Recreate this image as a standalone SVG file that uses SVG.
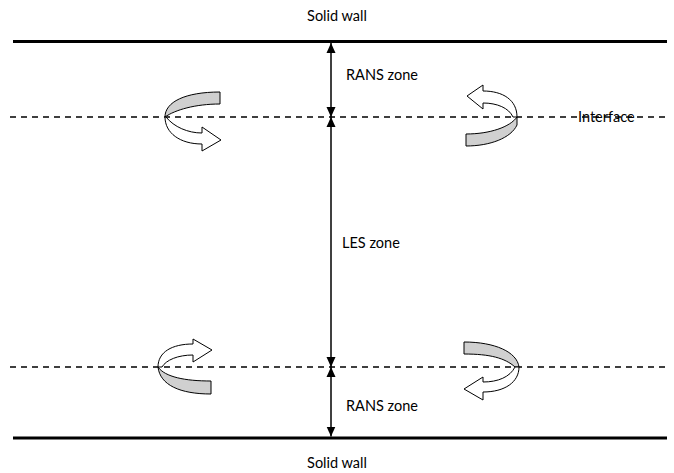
<svg xmlns="http://www.w3.org/2000/svg" width="674" height="473" viewBox="0 0 674 473">
<defs>
<style>
text{font-family:Lato,"Open Sans","Liberation Sans",sans-serif;font-size:14.5px;fill:#000}
.wall{stroke:#000;stroke-width:3}
.dash{stroke:#000;stroke-width:1.3;stroke-dasharray:6 5}
.dim{stroke:#000;stroke-width:1.5;fill:none;marker-start:url(#ah);marker-end:url(#ah)}
.band{fill:#d0d0d0;stroke:#000;stroke-width:1}
.arr{fill:#fff;stroke:#000;stroke-width:1}
</style>
<marker id="ah" viewBox="0 0 10 10" refX="10" refY="5" markerWidth="10" markerHeight="10" markerUnits="userSpaceOnUse" orient="auto-start-reverse">
<path d="M0,0.5 L10,5 L0,9.5 Z" fill="#000"/>
</marker>
</defs>
<g id="walls">
<line class="wall" x1="13" y1="41.5" x2="667" y2="41.5"/>
<line class="wall" x1="13" y1="438" x2="667" y2="438"/>
</g>
<g id="interfaces">
<line class="dash" x1="10" y1="117" x2="670" y2="117"/>
<line class="dash" x1="10" y1="367" x2="670" y2="367"/>
</g>
<g id="connectors">
<line class="dim" x1="331" y1="43" x2="331" y2="117"/>
<line class="dim" x1="331" y1="117" x2="331" y2="367"/>
<line class="dim" x1="331" y1="367" x2="331" y2="436.5"/>
</g>
<g id="vortex-tl">
<path class="band" d="M220,92 C185,92 165,102 165,117 C175,110 195,104 220,104 Z"/>
<path class="arr" d="M165,117 C165,133 180,144 202,144 L202,151 L221,140 L202,127 L202,133 C188,133 174,127 166,117 Z"/>
</g>
<g id="vortex-tr">
<path class="band" d="M466,134 C490,134 510,127 517,117 L517,125 C511,138 490,146 466,146 Z"/>
<path class="arr" d="M517,117 C517,100 503,91 483,91 L483,85 L467,96 L483,109 L483,103 C497,103 509,108 513,117 Z"/>
</g>
<g id="vortex-bl">
<path class="band" d="M158,367 C165,377 185,381 211,381 L211,394 C180,394 160,385 158,367 Z"/>
<path class="arr" d="M158,367 C158,352 172,344 193,344 L193,339 L212,350 L193,362 L193,355 C178,355 166,360 162,367 Z"/>
</g>
<g id="vortex-br">
<path class="band" d="M464,342 C495,342 517,352 519,367 L515,367 C505,358 490,354 464,354 Z"/>
<path class="arr" d="M519,367 C519,382 505,392 483,392 L483,400 L464,389 L483,377 L483,382 C498,382 510,377 515,367 Z"/>
</g>
<g id="labels">
<text x="337" y="21" text-anchor="middle">Solid wall</text>
<text x="346" y="80">RANS zone</text>
<text x="342" y="248">LES zone</text>
<text x="346" y="411">RANS zone</text>
<text x="578" y="122">Interface</text>
<text x="337" y="468" text-anchor="middle">Solid wall</text>
</g>
</svg>
